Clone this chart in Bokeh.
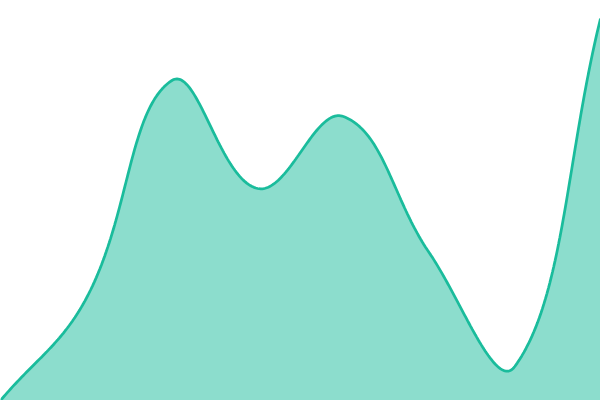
import math
from bokeh.plotting import figure
from bokeh.embed import file_html
from bokeh.resources import INLINE
from bokeh.models import Range1d

# Data
categories = ["1", "2", "3", "4", "5", "6", "7", "8"]
values = [0, 25.5, 80, 53, 71, 37, 8.5, 95.5]

W, H = 600, 400
Y_MIN, Y_MAX = 0, 100
TENSION = 0.4

p = figure(width=W, height=H, output_backend="svg", toolbar_location=None,
           x_range=Range1d(0, len(categories) - 1), y_range=Range1d(Y_MIN, Y_MAX),
           min_border=0, min_border_left=0, min_border_right=0,
           min_border_top=0, min_border_bottom=0)
p.axis.visible = False
p.grid.visible = False
p.outline_line_color = None
p.background_fill_color = "white"
p.border_fill_color = "white"

# screen-space conversion for Chart.js-like spline smoothing
n = len(values)
xs_px = [i * W / (n - 1) for i in range(n)]
ys_px = [(Y_MAX - v) / (Y_MAX - Y_MIN) * H for v in values]

def ctrl(i):
    p0 = (xs_px[max(i - 1, 0)], ys_px[max(i - 1, 0)])
    p1 = (xs_px[i], ys_px[i])
    p2 = (xs_px[min(i + 1, n - 1)], ys_px[min(i + 1, n - 1)])
    d01 = math.hypot(p1[0] - p0[0], p1[1] - p0[1])
    d12 = math.hypot(p2[0] - p1[0], p2[1] - p1[1])
    s = d01 + d12
    s01 = d01 / s if s else 0
    s12 = d12 / s if s else 0
    fa, fb = TENSION * s01, TENSION * s12
    prev = (p1[0] - fa * (p2[0] - p0[0]), p1[1] - fa * (p2[1] - p0[1]))
    nxt = (p1[0] + fb * (p2[0] - p0[0]), p1[1] + fb * (p2[1] - p0[1]))
    clamp = lambda q: (min(max(q[0], 0), W), min(max(q[1], 0), H))
    return clamp(prev), clamp(nxt)

ctrls = [ctrl(i) for i in range(n)]
sx, sy = [], []
STEPS = 60
for i in range(n - 1):
    a = (xs_px[i], ys_px[i]); b = (xs_px[i + 1], ys_px[i + 1])
    c1 = ctrls[i][1]; c2 = ctrls[i + 1][0]
    for k in range(STEPS + (1 if i == n - 2 else 0)):
        t = k / STEPS
        mt = 1 - t
        x = mt**3 * a[0] + 3 * mt**2 * t * c1[0] + 3 * mt * t**2 * c2[0] + t**3 * b[0]
        y = mt**3 * a[1] + 3 * mt**2 * t * c1[1] + 3 * mt * t**2 * c2[1] + t**3 * b[1]
        sx.append(x / W * (n - 1))
        sy.append(Y_MAX - y / H * (Y_MAX - Y_MIN))

p.varea(x=sx, y1=[Y_MIN] * len(sx), y2=sy, fill_color="#1abc9c", fill_alpha=0.5)
p.line(sx, sy, line_color="#1abc9c", line_width=2.75)

open("out.html", "w").write(file_html(p, INLINE))
